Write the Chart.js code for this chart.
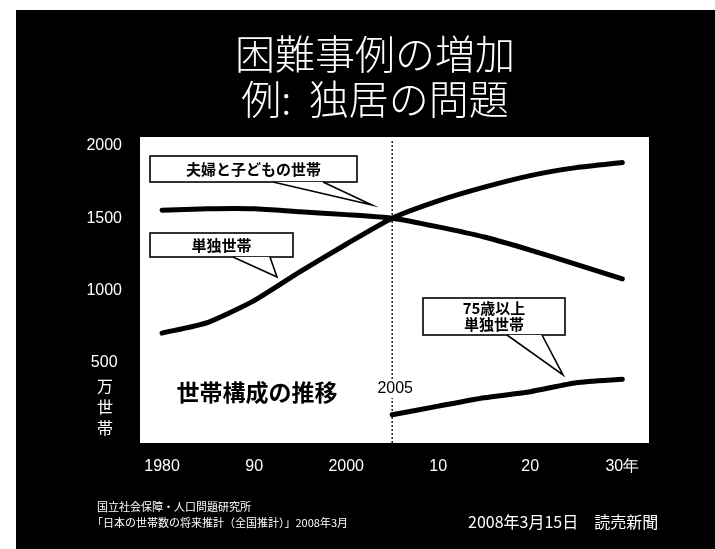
<!DOCTYPE html>
<html>
<head>
<meta charset="utf-8">
<script src="https://cdn.jsdelivr.net/npm/chart.js@4.4.1/dist/chart.umd.min.js"></script>
<style>
html,body{margin:0;padding:0;background:#fff;overflow:hidden}
#wrap{width:715px;height:549px}
</style>
</head>
<body>
<div id="wrap"><canvas id="c" width="715" height="549"></canvas></div>
<script>
// 世帯構成の推移（万世帯）
const years=[1980,1985,1990,1995,2000,2005,2010,2015,2020,2025,2030];
const coupleKids=[1555,1565,1565,1545,1525,1500,1440,1370,1280,1180,1080];
const singles=[705,780,930,1130,1320,1500,1620,1715,1795,1850,1885];
const elderYears=[2005,2010,2015,2020,2025,2030];
const elderSingles=[140,200,258,300,362,386];
const xTicks=[1980,1990,2000,2010,2020,2030];
const xTickLabels=['1980','90','2000','10','20','30年'];
const yTicks=[500,1000,1500,2000];

const JP='"Noto Sans CJK JP","Noto Sans",sans-serif';
const NUM='"Liberation Sans",Arial,sans-serif';

// callout boxes (pixels, relative to chart area)
const callouts=[
  {lines:['夫婦と子どもの世帯'], x:10, y:19, w:207, h:26, base:[133,183], tip:[232,68]},
  {lines:['単独世帯'], x:10, y:96, w:143, h:24, base:[93,130], tip:[137,140]},
  {lines:['75歳以上','単独世帯'], x:283, y:161, w:142, h:37, base:[367,402], tip:[423,238]}
];

const pts=(xs,ys)=>xs.map((x,i)=>({x,y:ys[i]}));
const lineStyle={borderColor:'#000',borderWidth:5,pointRadius:0,tension:0.2,
  borderCapStyle:'round',borderJoinStyle:'round',fill:false};

const frame={
  id:'frame',
  beforeDraw(ch){
    const c=ch.ctx, a=ch.chartArea;
    c.save();
    c.fillStyle='#fff'; c.fillRect(0,0,ch.width,ch.height);
    c.fillStyle='#000'; c.fillRect(16,10,ch.width-16,ch.height-10);
    c.fillStyle='#fff'; c.fillRect(a.left,a.top,a.right-a.left,a.bottom-a.top);
    c.restore();
  },
  beforeDatasetsDraw(ch){
    const c=ch.ctx, a=ch.chartArea, x=ch.scales.x.getPixelForValue(2005);
    c.save();
    c.strokeStyle='#222'; c.lineWidth=1.5; c.setLineDash([2,2]);
    c.beginPath(); c.moveTo(x,a.top+4); c.lineTo(x,a.bottom); c.stroke();
    // year marker sits on a white patch over the dashed line
    c.setLineDash([]);
    c.font='16px '+NUM; c.textAlign='center'; c.textBaseline='middle';
    c.fillStyle='#fff'; c.fillRect(x-18,380,42,18);
    c.fillStyle='#000'; c.fillText('2005',x+3,389);
    c.restore();
  },
  afterDatasetsDraw(ch){
    const c=ch.ctx, a=ch.chartArea;
    c.save();
    callouts.forEach(o=>{
      const L=a.left, T=a.top;
      c.lineWidth=1.6; c.strokeStyle='#000'; c.fillStyle='#fff';
      c.fillRect(L+o.x,T+o.y,o.w,o.h);
      c.strokeRect(L+o.x,T+o.y,o.w,o.h);
      c.beginPath();
      c.moveTo(L+o.base[0],T+o.y+o.h);
      c.lineTo(L+o.tip[0],T+o.tip[1]);
      c.lineTo(L+o.base[1],T+o.y+o.h);
      c.closePath(); c.fill();
      c.beginPath();
      c.moveTo(L+o.base[0],T+o.y+o.h); c.lineTo(L+o.tip[0],T+o.tip[1]);
      c.lineTo(L+o.base[1],T+o.y+o.h); c.stroke();
      c.fillStyle='#000'; c.font='bold 15px '+JP;
      c.textAlign='center'; c.textBaseline='middle';
      const lh=16, y0=T+o.y+o.h/2-(o.lines.length-1)*lh/2;
      o.lines.forEach((t,i)=>c.fillText(t,L+o.x+o.w/2,y0+i*lh));
    });
    // chart caption
    c.fillStyle='#000'; c.textAlign='center'; c.textBaseline='middle';
    c.font='bold 23px '+JP;
    c.fillText('世帯構成の推移',257,392);
    c.restore();
  },
  afterDraw(ch){
    const c=ch.ctx, y=ch.scales.y;
    c.save();
    c.fillStyle='#fff'; c.textAlign='center'; c.textBaseline='middle';
    c.font='300 40px '+JP;
    c.fillText('困難事例の増加',375,54);
    c.fillText('例:  独居の問題',375,99);
    // unit label under the 500 tick
    c.font='16px '+JP;
    const y5=y.getPixelForValue(500);
    ['万','世','帯'].forEach((t,i)=>c.fillText(t,105,y5+23+i*21));
    // source
    c.textAlign='left';
    c.font='11px '+JP;
    c.fillText('国立社会保障・人口問題研究所',97,507);
    c.fillText('「日本の世帯数の将来推計（全国推計）」2008年3月',92,523);
    c.font='16px '+JP;
    c.fillText('2008年3月15日　読売新聞',468,522);
    c.restore();
  }
};

new Chart(document.getElementById('c'),{
  type:'line',
  data:{datasets:[
    {label:'夫婦と子どもの世帯',data:pts(years,coupleKids),...lineStyle},
    {label:'単独世帯',data:pts(years,singles),...lineStyle},
    {label:'75歳以上単独世帯',data:pts(elderYears,elderSingles),...lineStyle}
  ]},
  options:{
    responsive:false, devicePixelRatio:1, animation:false,
    layout:{padding:{left:0,top:137,right:66,bottom:0}},
    plugins:{legend:{display:false},tooltip:{enabled:false}},
    scales:{
      x:{type:'linear',min:1977.6,max:2032.9,
        afterBuildTicks:s=>{s.ticks=xTicks.map(v=>({value:v}));},
        afterFit:s=>{s.height=106;},
        grid:{display:false,drawTicks:false}, border:{display:false},
        ticks:{color:'#fff',font:{family:NUM,size:16},padding:14,maxRotation:0,autoSkip:false,
          callback:v=>xTickLabels[xTicks.indexOf(v)]}},
      y:{type:'linear',min:-55,max:2062,
        afterBuildTicks:s=>{s.ticks=yTicks.map(v=>({value:v}));},
        afterFit:s=>{s.width=140;},
        grid:{display:false,drawTicks:false}, border:{display:false},
        ticks:{color:'#fff',font:{family:NUM,size:16},padding:18,crossAlign:'center',
          callback:v=>String(v)}}
    }
  },
  plugins:[frame]
});
</script>
</body>
</html>
